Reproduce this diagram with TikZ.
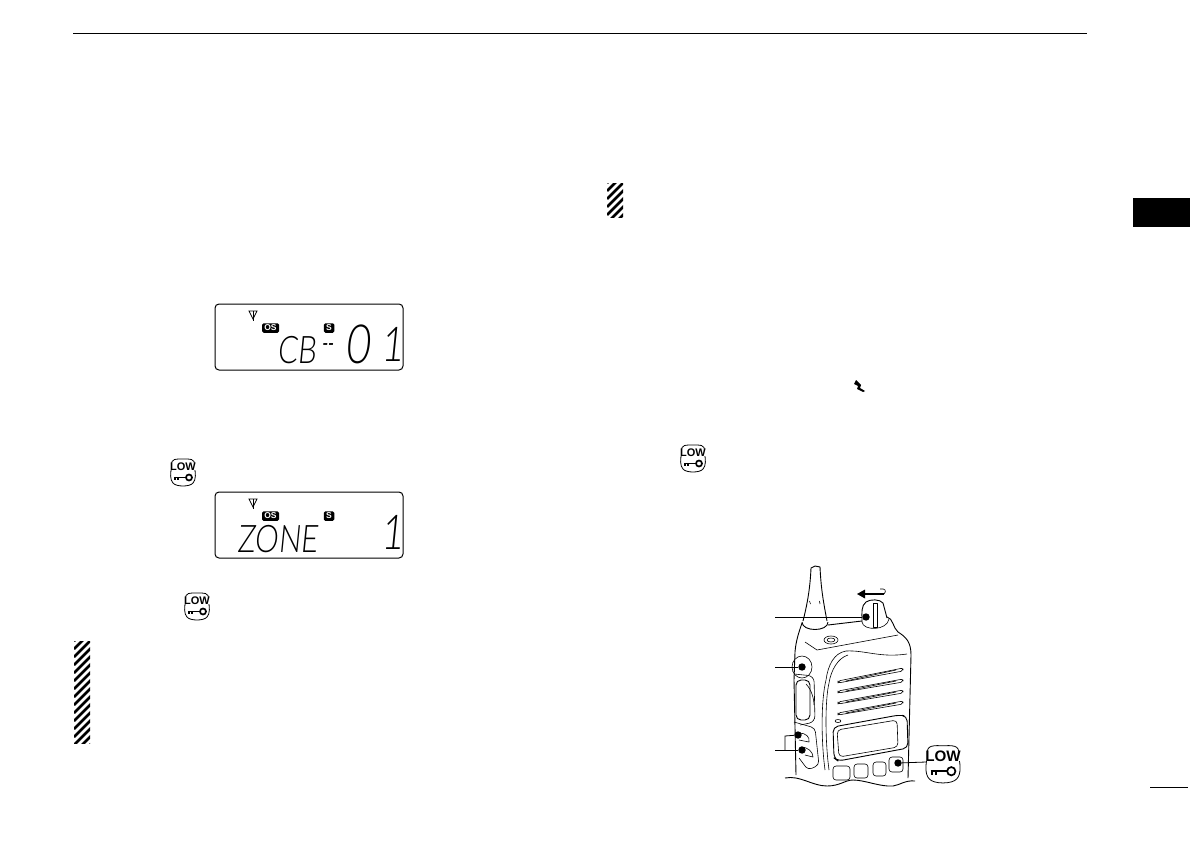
\documentclass[tikz,border=0pt]{standalone}
\usepackage{fontspec}
\setsansfont{Liberation Sans}
\newfontfamily\lcdfont{Lato Light}
\usetikzlibrary{calc}
\tikzset{
  badge/.style={fill=black,text=white,rounded corners=1.5pt,inner sep=0pt,font=\sffamily\bfseries\fontsize{8.5}{9}\selectfont},
  lcdpanel/.style={draw,line width=1pt,rounded corners=4pt},
  lcdtext/.style={inner sep=0pt,xslant=0.1,xscale=0.78},
  radio/.style={line width=0.9pt,line join=round},
  radiothin/.style={line width=0.6pt,line join=round},
  knobdot/.style={circle,fill=black,inner sep=0pt,minimum size=7.4pt},
  leader/.style={line width=0.8pt},
}
% hatched side marks
\newcommand{\hatchbox}[4]{%
  \begin{scope}
    \clip (#1,#2) rectangle (#3,#4);
    \pgfmathsetmacro{\hatchfirst}{#2}
    \pgfmathsetmacro{\hatchnext}{#2+8}
    \pgfmathsetmacro{\hatchlast}{#4+20}
    \foreach \yy in {\hatchfirst,\hatchnext,...,\hatchlast}
      \draw[line width=2.6pt] (#1,\yy) -- ++(18,-18);
  \end{scope}}
% LOW key icon
\newcommand{\lowkey}[4]{%
  \begin{scope}[shift={(#2,#3)},scale=#4,transform shape]
    \draw[line width=0.8pt] (-11,-7) .. controls (-13,-15) and (-6,-14) .. (0,-14)
      .. controls (6,-14) and (13,-15) .. (11,-7) .. controls (13,0) and (13,7) .. (10,10)
      .. controls (7,14) and (-7,14) .. (-10,10) .. controls (-13,7) and (-13,0) .. (-11,-7);
    \node[fill=white,inner sep=0pt,font=\sffamily\bfseries\fontsize{11}{11}\selectfont] (#1) at (0,-6.5) {LOW};
    \draw[line width=1.5pt] (-9,4.5) -- (3,4.5);
    \draw[line width=1.3pt] (-8,4) -- (-8,7) (-5,4) -- (-5,7);
    \draw[line width=1.7pt] (6,4.5) circle[radius=3];
  \end{scope}}
% LCD common marks
\newcommand{\lcdicons}[1]{%
  \draw[line width=0.8pt] (249,#1) -- ++(8,0) -- ++(-4,8) -- cycle;
  \draw[line width=0.8pt] (253,#1) -- ++(0,10);
  \node[badge,minimum width=17pt,minimum height=9.5pt] at (270.5,#1+17) {OS};
  \node[badge,minimum width=10.5pt,minimum height=9.5pt] at (329,#1+17) {S};}
\begin{document}
\begin{tikzpicture}[x=1pt,y=-1pt]
  \useasboundingbox (0,0) rectangle (1190,840);
  % page furniture
  \draw[line width=1.5pt] (73,33.5) -- (1087,33.5);
  \fill (1133,198) rectangle (1190,227);
  \draw[line width=1pt] (1150,787) -- (1188,787);
  \hatchbox{607}{183}{623}{217}
  \hatchbox{74}{641}{90}{743}
  % first display
  \draw[lcdpanel] (215,304) rectangle (403,370);
  \lcdicons{311}
  \node[lcdtext,font=\lcdfont\fontsize{38}{38}\selectfont] (chname) at (298.5,350) {CB};
  \node[lcdtext,font=\lcdfont\fontsize{20}{20}\selectfont\bfseries] (chdash) at (328,347) {--};
  \node[lcdtext,font=\lcdfont\fontsize{54}{54}\selectfont] (chzero) at (360,344) {0};
  \node[lcdtext,font=\lcdfont\fontsize{48}{48}\selectfont] (chone) at (394,344) {1};
  % second display
  \draw[lcdpanel] (215,492) rectangle (403,558);
  \lcdicons{499}
  \node[lcdtext,font=\lcdfont\fontsize{38}{38}\selectfont] (zonename) at (279,539) {ZONE};
  \node[lcdtext,font=\lcdfont\fontsize{48}{48}\selectfont] (zonenum) at (394,532) {1};
  % key icons in the text
  \lowkey{lowa}{183}{473}{1}
  \lowkey{lowb}{197}{607}{1}
  \lowkey{lowc}{693}{459}{1}
  % lightning mark
  \fill (856,380) -- (859,383) -- (861,385) -- (860,388) -- (865,391) -- (863,392) -- (857,389) -- (858,386) -- (854,384) -- cycle;
  % radio: antenna and collar
  \draw[radio] (803,621) .. controls (807,605) and (810,590) .. (811,568) -- (815,566) -- (820,567)
    .. controls (821,590) and (824,605) .. (827,621);
  \draw[radio] (802,622) .. controls (802,632) and (828,632) .. (828,622);
  \draw[radiothin] (809.5,601) -- (810.5,604) (819.5,601) -- (820,604);
  % radio: body
  \draw[radio] (802,623) .. controls (799,632) and (796,640) .. (795,652) -- (794,680) -- (796,775);
  \draw[radio] (828,625) -- (862,621);
  \draw[radio] (887,617) .. controls (893,618) and (893,628) .. (898,632)
    .. controls (906,637) and (911,642) .. (911,655) -- (908,778);
  \draw[radiothin] (805,642) -- (817,650) -- (898,635);
  \draw[radiothin] (831,640) ellipse[x radius=7,y radius=4];
  \draw[radiothin] (831,640) ellipse[x radius=4,y radius=2];
  \draw[radiothin] (825,770) .. controls (821,740) and (821,700) .. (826,680)
    .. controls (828,665) and (834,653) .. (846,651) .. controls (865,650) and (880,658) .. (907,654);
  \draw[radiothin] (829,770) .. controls (825,740) and (825,700) .. (829,683)
    .. controls (831,670) and (838,658) .. (848,655);
  % radio: knob
  \draw[radio] (862,622) .. controls (862,612) and (861,606) .. (866,602)
    .. controls (870,599) and (880,599) .. (883,603) -- (887,618);
  \draw[radiothin] (862,622) .. controls (863,631) and (887,631) .. (889,619);
  \draw[radiothin] (873,603) rectangle (877,627);
  % radio: rotation arrow
  \draw[line width=2.4pt] (884,594) -- (864,594);
  \fill (857,594) -- (865,589.5) -- (865,598.5) -- cycle;
  \draw[radiothin] (884,594) .. controls (887,591) and (885,588) .. (880,589);
  % radio: grille
  \foreach \ya/\yb in {681/670,691/681,702/692,713/703}{
    \draw[radiothin,rounded corners=2pt] (838,\ya+2) -- (838,\ya) -- (903,\yb-2) -- (903,\yb+1) -- cycle;
    \draw[radiothin] (846,\ya) -- (896,\yb);
  }
  % radio: front panel display
  \draw[radiothin] (838,721) ellipse[x radius=3,y radius=1.5];
  \draw[radio,rounded corners=5pt] (833,727) -- (899,715) -- (907,716) -- (908,748) -- (838,761) -- (834,758) -- cycle;
  \draw[radiothin,rounded corners=4pt] (837,730) -- (897,720) -- (898,747) -- (839,757) -- cycle;
  % radio: front buttons
  \foreach \xa/\ya/\xb/\yb in {833/766/850/780,854/764/868/778,873/762/886/776,889/757/903/772}
    \draw[radiothin,rounded corners=3pt] (\xa,\ya) rectangle (\xb,\yb);
  % radio: side controls
  \draw[radio,rounded corners=5pt] (796,680) rectangle (810,720);
  \draw[radiothin,rounded corners=6pt] (794,674) -- (814,676) -- (815,722) -- (800,725);
  \draw[radiothin] (802,667) ellipse[x radius=10,y radius=11];
  \draw[radiothin] (806,684) .. controls (812,690) and (814,700) .. (814,705);
  \draw[radiothin,rounded corners=4pt] (794,722) -- (815,728) -- (819,765) -- (808,770) -- (799,758);
  \draw[radiothin] (799,733) .. controls (806,733) and (810,737) .. (809,742) -- (799,740);
  \draw[radiothin] (801,747) .. controls (808,747) and (813,752) .. (813,757) -- (805,755);
  % radio: cut-off edge
  \draw[radio] (785,778) .. controls (800,775) and (812,786) .. (827,786)
    .. controls (840,786) and (845,780) .. (853,780) .. controls (865,780) and (880,787) .. (893,786)
    .. controls (900,785) and (905,780) .. (915,781);
  % radio: call-outs
  \node[knobdot] (knob) at (866,617) {};
  \node[knobdot] (ptt) at (802,667) {};
  \node[knobdot] (upper) at (798,735) {};
  \node[knobdot] (lower) at (802,750) {};
  \node[knobdot] (lowbtn) at (898,763) {};
  \coordinate (knobend) at (775,617);
  \coordinate (pttend) at (775,667);
  \coordinate (lowerend) at (775,750);
  \coordinate (corner) at (785,736);
  \coordinate (tee) at (785,750);
  \draw[leader] (knobend) -- (knob);
  \draw[leader] (pttend) -- (ptt);
  \draw[leader] (lowerend) -- (lower);
  \draw[leader] (tee) -- (corner) -- (upper);
  \lowkey{lowd}{943}{765}{1.38}
  \coordinate (lowdedge) at (926,762);
  \draw[leader] (lowbtn) -- (lowdedge);
\end{tikzpicture}
\end{document}
